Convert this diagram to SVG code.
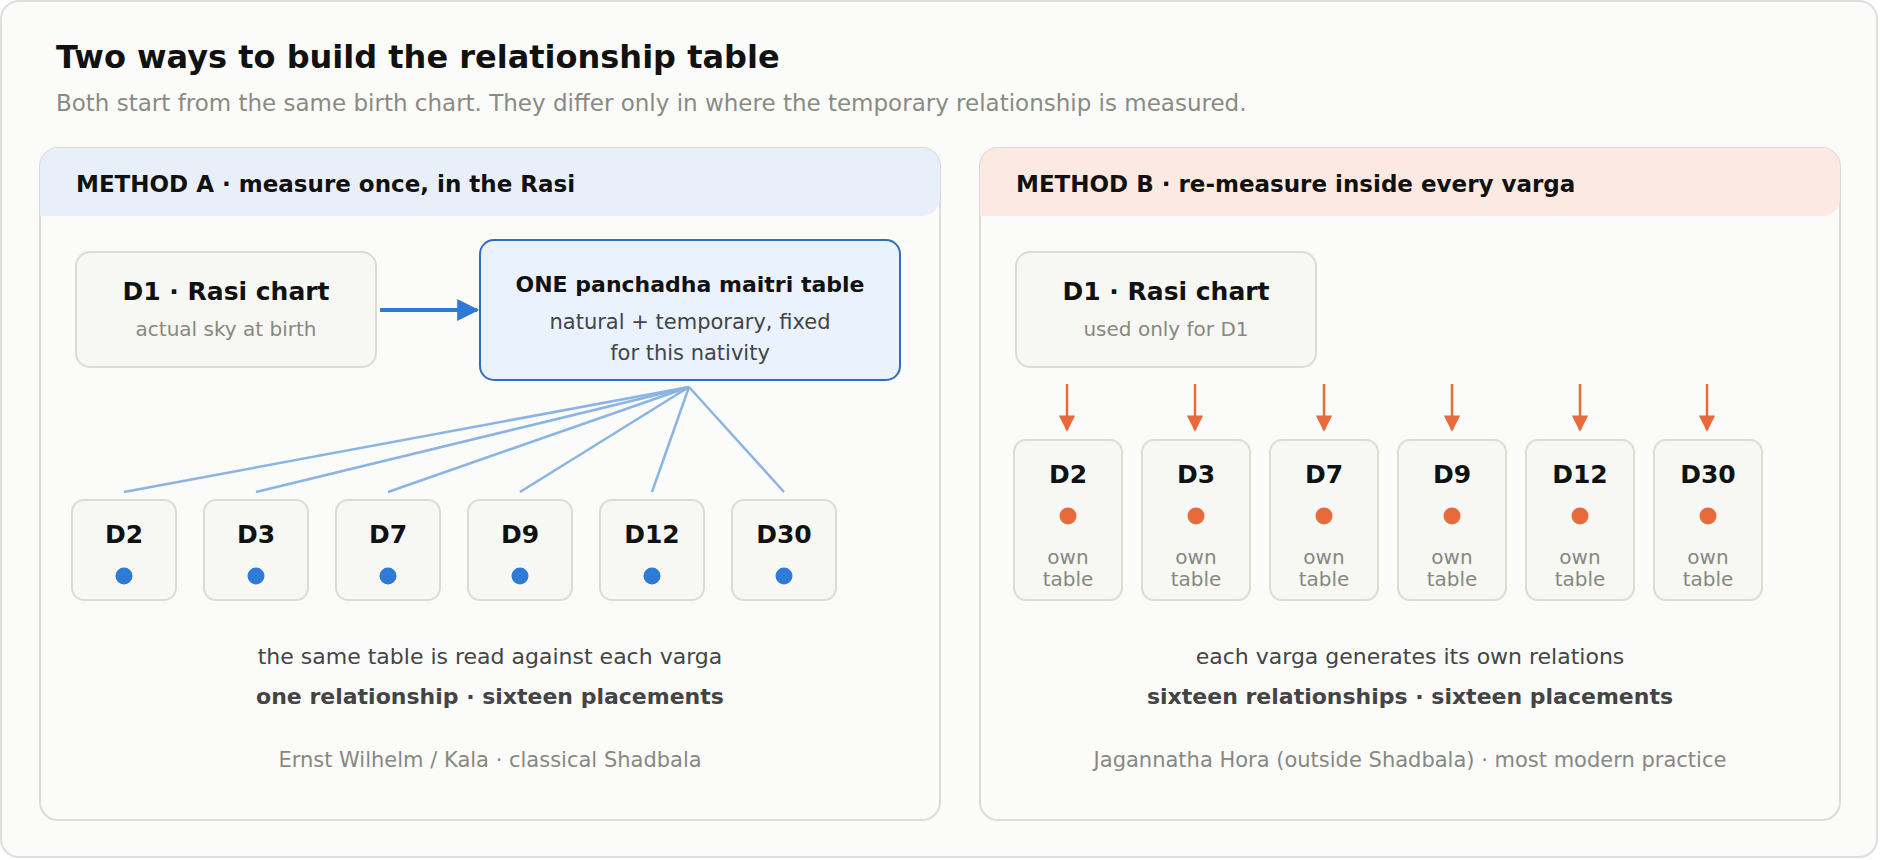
<svg xmlns="http://www.w3.org/2000/svg" width="1880" height="860" viewBox="0 0 1880 860">
<defs>
<style>
text{font-family:"DejaVu Sans",sans-serif}
.t{font-size:32px;font-weight:bold;fill:#111}
.st{font-size:23px;fill:#8a8a82}
.h{font-size:23px;font-weight:bold;fill:#111}
.bt{font-size:25px;font-weight:bold;fill:#111;text-anchor:middle}
.bs{font-size:20px;fill:#888880;text-anchor:middle}
.bs2{font-size:21px;fill:#444;text-anchor:middle}
.box{fill:#f7f7f4;stroke:#dcdcd5;stroke-width:2}
.mid{font-size:22px;fill:#444;text-anchor:middle}
.midb{font-size:22px;font-weight:bold;fill:#444;text-anchor:middle}
.foot{font-size:21px;fill:#888880;text-anchor:middle}
.fan{stroke:#8ab4e3;stroke-width:2.5;fill:none}
.oa{stroke:#e8693a;stroke-width:2.5;fill:none}
</style>
<marker id="ab" viewBox="0 0 10 10" refX="9" refY="5" markerWidth="6" markerHeight="5.5" orient="auto"><path d="M0,0L10,5L0,10z" fill="#2f7ad6"/></marker>
<marker id="ao" viewBox="0 0 10 10" refX="9" refY="5" markerWidth="6.5" markerHeight="6.5" orient="auto"><path d="M0,0L10,5L0,10z" fill="#e8693a"/></marker>
</defs>
<rect x="1" y="1" width="1876" height="856" rx="18" fill="#fbfbfa" stroke="#dedede" stroke-width="2"/>
<text class="t" x="56" y="68">Two ways to build the relationship table</text>
<text class="st" x="56" y="111">Both start from the same birth chart. They differ only in where the temporary relationship is measured.</text>

<g id="panelA">
<rect x="40" y="148" width="900" height="672" rx="18" fill="#fbfbfa" stroke="#dcdcd5" stroke-width="2"/>
<path d="M40,216V166a18,18 0 0 1 18,-18H922a18,18 0 0 1 18,18V198a18,18 0 0 1 -18,18z" fill="#e8eff8"/>
<text class="h" x="76" y="192">METHOD A · measure once, in the Rasi</text>
</g>
<g id="panelB">
<rect x="980" y="148" width="860" height="672" rx="18" fill="#fbfbfa" stroke="#dcdcd5" stroke-width="2"/>
<path d="M980,216V166a18,18 0 0 1 18,-18H1822a18,18 0 0 1 18,18V198a18,18 0 0 1 -18,18z" fill="#fce9e1"/>
<text class="h" x="1016" y="192">METHOD B · re-measure inside every varga</text>
</g>

<g id="connectors">
<line x1="380" y1="310" x2="477" y2="310" stroke="#2f7ad6" stroke-width="4" marker-end="url(#ab)"/>
<line class="fan" x1="689" y1="387" x2="124" y2="492"/>
<line class="fan" x1="689" y1="387" x2="256" y2="492"/>
<line class="fan" x1="689" y1="387" x2="388" y2="492"/>
<line class="fan" x1="689" y1="387" x2="520" y2="492"/>
<line class="fan" x1="689" y1="387" x2="652" y2="492"/>
<line class="fan" x1="689" y1="387" x2="784" y2="492"/>
<line class="oa" x1="1067" y1="384" x2="1067" y2="430" marker-end="url(#ao)"/>
<line class="oa" x1="1195" y1="384" x2="1195" y2="430" marker-end="url(#ao)"/>
<line class="oa" x1="1324" y1="384" x2="1324" y2="430" marker-end="url(#ao)"/>
<line class="oa" x1="1452" y1="384" x2="1452" y2="430" marker-end="url(#ao)"/>
<line class="oa" x1="1580" y1="384" x2="1580" y2="430" marker-end="url(#ao)"/>
<line class="oa" x1="1707" y1="384" x2="1707" y2="430" marker-end="url(#ao)"/>
</g>

<g id="a-d1"><rect class="box" x="76" y="252" width="300" height="115" rx="14"/>
<text class="bt" x="226" y="300">D1 · Rasi chart</text><text class="bs" x="226" y="336">actual sky at birth</text></g>
<g id="a-one"><rect x="480" y="240" width="420" height="140" rx="14" fill="#eaf2fd" stroke="#2f6fba" stroke-width="2"/>
<text class="bt" x="690" y="292" style="font-size:22px">ONE panchadha maitri table</text>
<text class="bs2" x="690" y="329">natural + temporary, fixed</text>
<text class="bs2" x="690" y="360">for this nativity</text></g>

<g id="a-d2"><rect class="box" x="72" y="500" width="104" height="100" rx="12"/><text class="bt" x="124" y="543">D2</text><circle cx="124" cy="576" r="8.5" fill="#2f7ad6"/></g>
<g id="a-d3"><rect class="box" x="204" y="500" width="104" height="100" rx="12"/><text class="bt" x="256" y="543">D3</text><circle cx="256" cy="576" r="8.5" fill="#2f7ad6"/></g>
<g id="a-d7"><rect class="box" x="336" y="500" width="104" height="100" rx="12"/><text class="bt" x="388" y="543">D7</text><circle cx="388" cy="576" r="8.5" fill="#2f7ad6"/></g>
<g id="a-d9"><rect class="box" x="468" y="500" width="104" height="100" rx="12"/><text class="bt" x="520" y="543">D9</text><circle cx="520" cy="576" r="8.5" fill="#2f7ad6"/></g>
<g id="a-d12"><rect class="box" x="600" y="500" width="104" height="100" rx="12"/><text class="bt" x="652" y="543">D12</text><circle cx="652" cy="576" r="8.5" fill="#2f7ad6"/></g>
<g id="a-d30"><rect class="box" x="732" y="500" width="104" height="100" rx="12"/><text class="bt" x="784" y="543">D30</text><circle cx="784" cy="576" r="8.5" fill="#2f7ad6"/></g>

<text class="mid" x="490" y="664">the same table is read against each varga</text>
<text class="midb" x="490" y="704">one relationship · sixteen placements</text>
<text class="foot" x="490" y="767">Ernst Wilhelm / Kala · classical Shadbala</text>

<g id="b-d1"><rect class="box" x="1016" y="252" width="300" height="115" rx="14"/>
<text class="bt" x="1166" y="300">D1 · Rasi chart</text><text class="bs" x="1166" y="336">used only for D1</text></g>

<g id="b-d2"><rect class="box" x="1014" y="440" width="108" height="160" rx="12"/><text class="bt" x="1068" y="483">D2</text><circle cx="1068" cy="516" r="8.5" fill="#e8693a"/><text class="bs" x="1068" y="564">own</text><text class="bs" x="1068" y="586">table</text></g>
<g id="b-d3"><rect class="box" x="1142" y="440" width="108" height="160" rx="12"/><text class="bt" x="1196" y="483">D3</text><circle cx="1196" cy="516" r="8.5" fill="#e8693a"/><text class="bs" x="1196" y="564">own</text><text class="bs" x="1196" y="586">table</text></g>
<g id="b-d7"><rect class="box" x="1270" y="440" width="108" height="160" rx="12"/><text class="bt" x="1324" y="483">D7</text><circle cx="1324" cy="516" r="8.5" fill="#e8693a"/><text class="bs" x="1324" y="564">own</text><text class="bs" x="1324" y="586">table</text></g>
<g id="b-d9"><rect class="box" x="1398" y="440" width="108" height="160" rx="12"/><text class="bt" x="1452" y="483">D9</text><circle cx="1452" cy="516" r="8.5" fill="#e8693a"/><text class="bs" x="1452" y="564">own</text><text class="bs" x="1452" y="586">table</text></g>
<g id="b-d12"><rect class="box" x="1526" y="440" width="108" height="160" rx="12"/><text class="bt" x="1580" y="483">D12</text><circle cx="1580" cy="516" r="8.5" fill="#e8693a"/><text class="bs" x="1580" y="564">own</text><text class="bs" x="1580" y="586">table</text></g>
<g id="b-d30"><rect class="box" x="1654" y="440" width="108" height="160" rx="12"/><text class="bt" x="1708" y="483">D30</text><circle cx="1708" cy="516" r="8.5" fill="#e8693a"/><text class="bs" x="1708" y="564">own</text><text class="bs" x="1708" y="586">table</text></g>

<text class="mid" x="1410" y="664">each varga generates its own relations</text>
<text class="midb" x="1410" y="704">sixteen relationships · sixteen placements</text>
<text class="foot" x="1410" y="767">Jagannatha Hora (outside Shadbala) · most modern practice</text>
</svg>
